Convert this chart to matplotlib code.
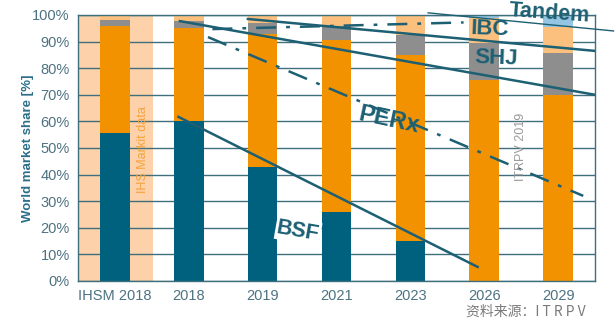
import matplotlib.pyplot as plt
import numpy as np

plt.rcParams['font.family'] = ['Liberation Sans', 'DejaVu Sans']

categories = ['IHSM 2018', '2018', '2019', '2021', '2023', '2026', '2029']
bsf = [55.5, 60.0, 43.0, 26.0, 15.0, 0.0, 0.0]
perc = [40.5, 35.0, 50.0, 64.5, 70.0, 75.5, 70.0]
shj = [2.0, 2.7, 4.0, 5.5, 7.5, 14.0, 15.7]
ibc = [2.0, 2.3, 3.0, 4.0, 7.5, 9.3, 9.8]
tandem = [0.0, 0.0, 0.0, 0.0, 0.0, 1.2, 4.5]

# trend lines (x in category index units, y in %)
bsf_line = ([0.86, 4.91], [61.7, 5.3])
perx_line = ([1.26, 6.34], [91.7, 32.0])
shj_line = ([0.88, 6.5], [97.7, 70.0])
ibc_line = ([1.8, 6.5], [98.5, 86.5])
upper_line = ([1.32, 4.72], [94.7, 97.2])
tandem_line = ([4.24, 6.75], [100.8, 94.0])

c_bsf = '#00617f'
c_perc = '#f39200'
c_shj = '#8e8e8e'
c_ibc = '#fcc07e'
c_tandem = '#94c6e4'
c_bg = '#fdd2aa'
c_line = '#1d5f73'
c_grid = '#3f6e7c'
c_tick = '#4d7282'

fig = plt.figure(figsize=(6.16, 3.28), dpi=100)
ax = fig.add_axes([0.1266, 0.1433, 0.8394, 0.8110])

x = np.arange(len(categories))
ax.axvspan(-0.5, 0.52, color=c_bg, zorder=0, lw=0)
ax.set_axisbelow(True)
ax.grid(True, axis='y', color=c_grid, lw=1.0)

w = 0.4
bottom = np.zeros(len(categories))
for vals, col in [(bsf, c_bsf), (perc, c_perc), (shj, c_shj), (ibc, c_ibc), (tandem, c_tandem)]:
    ax.bar(x, vals, w, bottom=bottom, color=col, zorder=2, lw=0)
    bottom += np.array(vals)

ax.plot(*bsf_line, color=c_line, lw=1.8, zorder=3)
ax.plot(*perx_line, color=c_line, lw=1.8, ls=(0, (8, 4, 1.5, 4)), zorder=3)
ax.plot(*shj_line, color=c_line, lw=1.8, zorder=3)
ax.plot(*ibc_line, color=c_line, lw=1.8, zorder=3)
ax.plot(*upper_line, color=c_line, lw=1.8, ls=(0, (8, 4, 1.5, 4)), zorder=3)
ax.plot(*tandem_line, color=c_line, lw=1.0, zorder=3, clip_on=False)

ax.set_xlim(-0.5, 6.5)
ax.set_ylim(0, 100)
ax.set_xticks(x)
ax.set_xticklabels(categories)
ax.set_yticks(range(0, 101, 10))
ax.set_yticklabels([f'{v}%' for v in range(0, 101, 10)])
ax.tick_params(length=0, labelsize=10.5, colors=c_tick, pad=6)
for s in ax.spines.values():
    s.set_color(c_grid)
    s.set_linewidth(1.0)

ax.set_ylabel('World market share [%]', color='#2b6f8a', fontsize=9.5,
              fontweight='bold')
ax.yaxis.set_label_coords(-0.085, 0.5)

lbl = dict(color=c_line, fontweight='bold', ha='center', va='center', zorder=5)
ax.text(5.88, 100.6, 'Tandem', fontsize=15.5, rotation=-4, clip_on=False, **lbl)
ax.text(5.08, 94.5, 'IBC', fontsize=16, rotation=-2, **lbl)
ax.text(5.16, 83.6, 'SHJ', fontsize=16, rotation=-2, **lbl)
ax.text(3.71, 60.5, 'PERx', fontsize=17, rotation=-12, **lbl)
ax.text(2.48, 18.8, 'BSF', fontsize=15.5, rotation=-10,
        bbox=dict(facecolor='white', edgecolor='none', pad=1), **lbl)

ax.text(0.38, 49.5, 'IHS Markit data', color='#f5a23a', fontsize=9, rotation=90,
        ha='center', va='center', zorder=4)
ax.text(5.5, 50.5, 'ITRPV 2019', color='#9a9a9a', fontsize=9, rotation=90,
        ha='center', va='center', zorder=4)

fig.text(0.95, 0.05, '资料来源：I T R P V', color='#7a7a7a', fontsize=10,
         ha='right', va='center',
         family=['Noto Sans CJK SC', 'DejaVu Sans'])

fig.savefig('out.png', dpi=100)
